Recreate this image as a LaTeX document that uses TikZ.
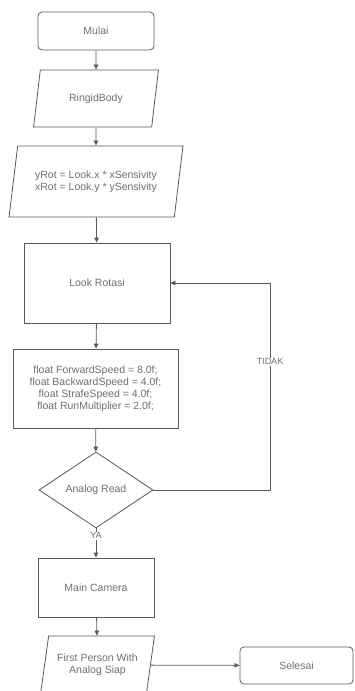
\documentclass[tikz,border=0pt]{standalone}
\usepackage{fontspec}
\setmainfont{Liberation Sans}
\usetikzlibrary{arrows.meta, positioning, shapes.geometric}
\definecolor{lineg}{HTML}{5A5A5A}
\definecolor{textg}{HTML}{6E6E6E}

\begin{document}
\begin{tikzpicture}[
    x=1pt, y=-1pt,
    every node/.style={font=\fontsize{10.5}{12}\selectfont, text=textg},
    terminal/.style={rectangle, rounded corners=4pt, draw=lineg, thick, minimum width=#1, minimum height=38pt, inner sep=1pt},
    process/.style={rectangle, draw=lineg, thick, inner sep=1pt},
    io/.style={trapezium, trapezium left angle=74, trapezium right angle=106, trapezium stretches=true, draw=lineg, thick, inner sep=1pt},
    decision/.style={diamond, draw=lineg, thick, minimum width=114pt, minimum height=76pt, inner sep=1pt},
    flow/.style={-{Triangle[length=5pt, width=4.5pt]}, lineg, thick},
    tag/.style={fill=white, inner sep=1pt, font=\fontsize{9}{10}\selectfont},
]
    \useasboundingbox (0, 0) rectangle (354, 691);

    % Start and input
    \node[terminal=116pt] (mulai) at (96, 31) {Mulai};
    \node[io, minimum width=125pt, minimum height=57pt] (body) at (96, 98.5) {RingidBody};
    \node[io, minimum width=174pt, minimum height=71pt, align=left] (rot) at (96, 181.5)
        {yRot = Look.x * xSensivity\\xRot = Look.y * ySensivity};

    % Processes
    \node[process, minimum width=146pt, minimum height=80pt] (look) at (97, 283) {Look Rotasi};
    \node[process, minimum width=165pt, minimum height=79pt, align=center] (speed) at (95.5, 388.5)
        {float ForwardSpeed = 8.0f;\\float BackwardSpeed = 4.0f;\\float StrafeSpeed = 4.0f;\\float RunMultiplier = 2.0f;};

    % Decision
    \node[decision] (read) at (96, 490) {Analog Read};

    % Output and end
    \node[process, minimum width=116pt, minimum height=59pt] (camera) at (96, 587.5) {Main Camera};
    \node[io, minimum width=115pt, minimum height=58pt, align=center] (fps) at (97.5, 665)
        {First Person With\\Analog Siap};
    \node[terminal=113pt, minimum height=37pt] (selesai) at (296.5, 665.5) {Selesai};

    % Main flow
    \draw[flow] (mulai) -- (body);
    \draw[flow] (body) -- (rot);
    \draw[flow] (rot) -- (look);
    \draw[flow] (look) -- (speed);
    \draw[flow] (speed) -- (read);
    \draw[flow] (read) -- node[tag, pos=0.25] {YA} (camera);
    \draw[flow] (camera) -- (fps);
    \draw[flow] (fps) -- (selesai);

    % Loop back
    \coordinate (loop) at (270, 283);
    \draw[flow] (read.east) -| node[tag, pos=0.81] {TIDAK} (loop) -- (look.east);
\end{tikzpicture}
\end{document}
